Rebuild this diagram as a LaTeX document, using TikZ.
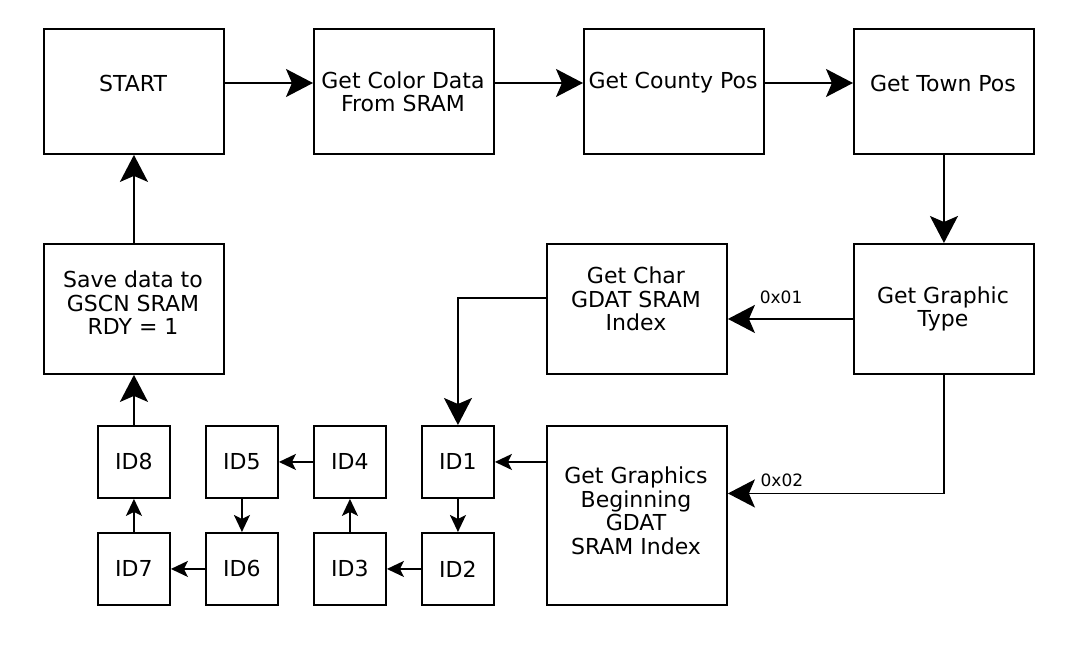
\documentclass[tikz,border=0pt]{standalone}
\usepackage{fontspec}
\setmainfont{DejaVu Sans}
\usetikzlibrary{arrows.meta}
\begin{document}
\begin{tikzpicture}[x=1pt,y=-1pt,
  box/.style={draw=black, line width=1.9pt, rectangle, anchor=north west, inner sep=0pt},
  bigbox/.style={box, minimum width=180pt, minimum height=125pt},
  midbox/.style={box, minimum width=180pt, minimum height=130pt},
  idbox/.style={box, minimum width=72pt, minimum height=72pt, font=\fontsize{22}{23.5}\selectfont},
  txt/.style={align=center, inner sep=0pt, font=\fontsize{22}{23.5}\selectfont},
  lab/.style={inner sep=0pt, font=\fontsize{17}{18}\selectfont},
  conn/.style={line width=1.9pt, draw=black},
  bigarrow/.style={conn, -{Stealth[length=27pt, width=28pt, inset=6pt]}},
  smallarrow/.style={conn, -{Stealth[length=17pt, width=16pt, inset=4pt]}}
]
\useasboundingbox (0,0) rectangle (1074,668);

% top row
\node[bigbox] (start)  at (43,28) {};
\node[bigbox] (color)  at (313,28) {};
\node[bigbox] (county) at (583,28) {};
\node[bigbox] (town)   at (853,28) {};
\node[txt] (startT)  at (133,83) {START};
\node[txt] (colorT)  at (403,92) {Get Color Data\\From SRAM};
\node[txt] (countyT) at (673,83) {Get County Pos};
\node[txt] (townT)   at (943,83) {Get Town Pos};

% middle row
\node[midbox] (save)  at (43,243) {};
\node[midbox] (char)  at (546,243) {};
\node[midbox] (gtype) at (853,243) {};
\node[txt] (saveT)  at (133,303) {Save data to\\GSCN SRAM\\RDY = 1};
\node[txt] (charT)  at (636,299) {Get Char\\GDAT SRAM\\Index};
\node[txt] (gtypeT) at (943,309) {Get Graphic\\Type};

% bottom big box
\node[box, minimum width=180pt, minimum height=179pt] (gbeg) at (546,425) {};
\node[txt] (gbegT) at (636,511) {Get Graphics\\Beginning\\GDAT\\SRAM Index};

% ID boxes
\node[idbox] (id1) at (421,425) {ID1};
\node[idbox] (id2) at (421,532) {ID2};
\node[idbox] (id3) at (313,532) {ID3};
\node[idbox] (id4) at (313,425) {ID4};
\node[idbox] (id5) at (205,425) {ID5};
\node[idbox] (id6) at (205,532) {ID6};
\node[idbox] (id7) at (97,532) {ID7};
\node[idbox] (id8) at (97,425) {ID8};

% connectors
\draw[bigarrow] (start.east |- startT) -- (color.west |- startT);
\draw[bigarrow] (color.east |- countyT) -- (county.west |- countyT);
\draw[bigarrow] (county.east |- townT) -- (town.west |- townT);
\draw[bigarrow] (town.south) -- (gtype.north);
\draw[bigarrow] ([yshift=-10pt]gtype.west) -- node[lab, pos=0.575, anchor=south, yshift=14pt] (l01) {0x01} ([yshift=-10pt]char.east);
\draw[bigarrow] (gtype.south) |- node[lab, pos=0.875, anchor=south, yshift=6pt] (l02) {0x02} ([yshift=22pt]gbeg.east);
\draw[bigarrow] ([yshift=11pt]char.west) -| (id1.north);
\draw[smallarrow] (gbeg.west |- id1) -- (id1.east);
\draw[smallarrow] (id1.south) -- (id2.north);
\draw[smallarrow] (id2.west) -- (id3.east);
\draw[smallarrow] (id3.north) -- (id4.south);
\draw[smallarrow] (id4.west) -- (id5.east);
\draw[smallarrow] (id5.south) -- (id6.north);
\draw[smallarrow] (id6.west) -- (id7.east);
\draw[smallarrow] (id7.north) -- (id8.south);
\draw[bigarrow] (id8.north) -- (save.south);
\draw[bigarrow] (save.north) -- (start.south);
\end{tikzpicture}
\end{document}
